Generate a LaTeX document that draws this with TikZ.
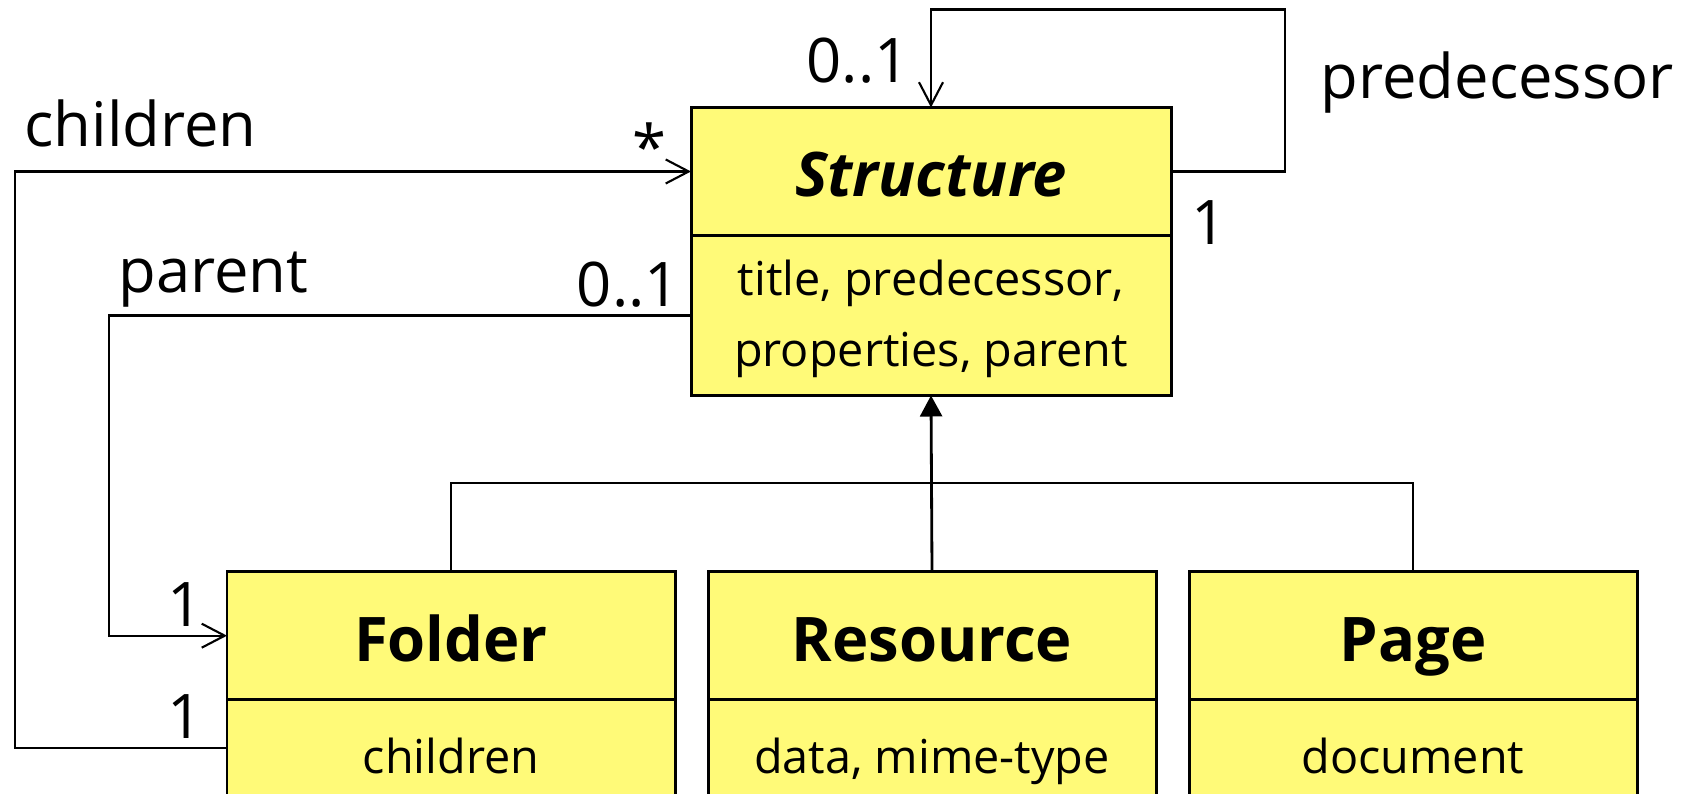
\documentclass[tikz,border=0pt]{standalone}
\usepackage{fontspec}
\setmainfont{Open Sans}
\usetikzlibrary{positioning,arrows.meta}
\definecolor{classyellow}{RGB}{255,250,120}

\begin{document}
\begin{tikzpicture}[
	box/.style={draw, line width=0.85pt, fill=classyellow, inner sep=0pt, outer sep=0pt},
	boxtitle/.style={box, minimum height=1.28cm, text height=14.4pt, text depth=0pt, font=\fontsize{17.5}{20}\selectfont\bfseries},
	boxattr/.style={box, align=center, font=\fontsize{13.3}{20.2}\selectfont},
	mult/.style={inner sep=0pt, font=\fontsize{17.5}{20}\selectfont},
	assoc/.style={line width=0.6pt, -{Straight Barb[length=2.3mm,width=2.4mm]}},
	inherit/.style={line width=0.8pt, -{Triangle[length=2.1mm,width=2.2mm]}}
	]
	\useasboundingbox (0,0) rectangle (16.86,7.94);
	\clip (0,0) rectangle (16.86,7.94);
	
	\node[boxtitle, minimum width=4.8cm, anchor=north west] (struct) at (6.91,6.865) {\itshape Structure};
	\node[boxattr, minimum width=4.8cm, minimum height=1.6cm, text height=33pt, text depth=4pt, below=0pt of struct] (structattr) {title, predecessor,\\properties, parent};
	
	\node[boxtitle, minimum width=4.48cm, anchor=north west] (folder) at (2.27,2.223) {Folder};
	\node[boxtitle, minimum width=4.48cm, right=0.33cm of folder] (resource) {Resource};
	\node[boxtitle, minimum width=4.48cm, right=0.33cm of resource] (page) {Page};
	\foreach \c/\t in {folder/children, resource/{data, mime-type}, page/document}
		\node[boxattr, minimum width=4.48cm, minimum height=1.26cm, text height=9pt, text depth=2.8pt, below=0pt of \c] (\c-attr) {\t};
	
	\draw[inherit] (resource.north) -- (structattr.south);
	\draw[line width=0.6pt] (folder.north) -- ++(0,0.887) -| (page.north);
	
	\draw[assoc] (struct.east) -| ++(1.14,1.62) -| (struct.north);
	\draw[assoc] ([yshift=-4.8mm]folder-attr.north west) -- ++(-2.12,0) |- (struct.west);
	\draw[assoc] (structattr.west) -- ++(-5.824,0) |- (folder.west);
	
	\node[mult, anchor=base] at (8.58,7.11) {0..1};
	\node[mult, anchor=base west] at (13.2,6.95) {predecessor};
	\node[mult, anchor=base] at (12.09,5.49) {1};
	\node[mult, anchor=base west] at (0.237,6.47) {children};
	\node[mult, anchor=base] at (6.49,6.24) {*};
	\node[mult, anchor=base west] at (1.18,5.015) {parent};
	\node[mult, anchor=base east] at (6.806,4.875) {0..1};
	\node[mult, anchor=base] at (1.85,1.67) {1};
	\node[mult, anchor=base] at (1.85,0.55) {1};
\end{tikzpicture}
\end{document}
